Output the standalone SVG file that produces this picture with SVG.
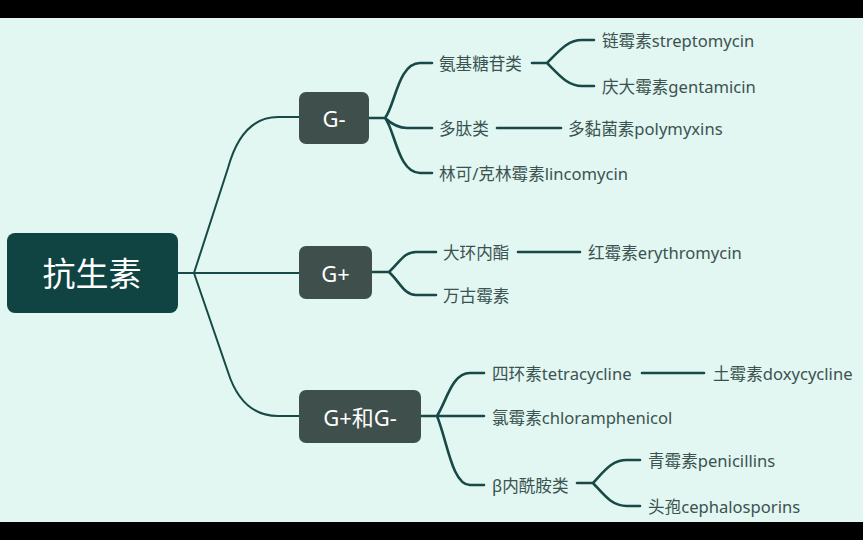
<svg xmlns="http://www.w3.org/2000/svg" width="863" height="540" viewBox="0 0 863 540">
<style>
.t{font-family:"Noto Sans","Noto Sans CJK SC",sans-serif;font-size:16.6px;fill:#3b5350;dominant-baseline:central}
.b{font-family:"Noto Sans","Noto Sans CJK SC",sans-serif;fill:#ffffff;dominant-baseline:central;text-anchor:middle}
.c{fill:none;stroke:#174946;stroke-width:2.6;stroke-linecap:round}
.r{fill:none;stroke:#174946;stroke-width:2}
</style>
<rect x="0" y="0" width="863" height="540" fill="#e2f6f2"/>
<rect x="0" y="0" width="863" height="18" fill="#000"/>
<rect x="0" y="522" width="863" height="18" fill="#000"/>
<g id="connectors">
<path class="r" d="M178,273 H194 M194,273 L228,168 Q242,117 278,117 H299 M194,273 H299 M194,273 L228,372 Q242,416 278,416 H299"/>
<path class="c" d="M369,118 H385 M385,118 C395,106 398,63 420,63 H432 M385,118 Q396,128 407,128 H432 M385,118 C395,130 398,173 420,173 H432"/>
<path class="c" d="M532,63 H547 C560,50 568,40 582,40 H594 M547,63 C560,76 568,86 582,86 H594"/>
<path class="c" d="M497,128 H561"/>
<path class="c" d="M372,272 H389 C400,262 404,252 416,252 H436 M389,272 C400,282 404,295 416,295 H436"/>
<path class="c" d="M518,252 H580"/>
<path class="c" d="M421,416 H437 C447,400 452,373 470,373 H484 M437,416 H484 M437,416 C447,440 452,485 470,485 H484"/>
<path class="c" d="M642,373 H704"/>
<path class="c" d="M577,483 H593 C605,470 612,460 627,460 H640 M593,483 C605,496 612,506 627,506 H640"/>
</g>
<g id="root"><rect x="7" y="233" width="171" height="80" rx="8" fill="#0f4442"/><text class="b" x="92" y="273" font-size="33">抗生素</text></g>
<g id="gneg"><rect x="299" y="92" width="70" height="52" rx="7" fill="#3f4f4c"/><text class="b" x="334" y="118" font-size="22">G-</text></g>
<g id="gpos"><rect x="299" y="246" width="73" height="53" rx="7" fill="#3f4f4c"/><text class="b" x="335.5" y="272.5" font-size="22">G+</text></g>
<g id="gboth"><rect x="299" y="390" width="122" height="53" rx="7" fill="#3f4f4c"/><text class="b" x="360" y="416.5" font-size="22">G+和G-</text></g>
<g id="n1"><text class="t" x="439" y="63">氨基糖苷类</text></g>
<g id="n2"><text class="t" x="439" y="128">多肽类</text></g>
<g id="n3"><text class="t" x="439" y="173">林可/克林霉素lincomycin</text></g>
<g id="n4"><text class="t" x="602" y="40">链霉素streptomycin</text></g>
<g id="n5"><text class="t" x="602" y="86">庆大霉素gentamicin</text></g>
<g id="n6"><text class="t" x="568" y="128">多黏菌素polymyxins</text></g>
<g id="n7"><text class="t" x="443" y="252">大环内酯</text></g>
<g id="n8"><text class="t" x="443" y="295">万古霉素</text></g>
<g id="n9"><text class="t" x="588" y="252">红霉素erythromycin</text></g>
<g id="n10"><text class="t" x="492" y="373">四环素tetracycline</text></g>
<g id="n11"><text class="t" x="492" y="417">氯霉素chloramphenicol</text></g>
<g id="n12"><text class="t" x="492" y="485">β内酰胺类</text></g>
<g id="n13"><text class="t" x="713" y="373">土霉素doxycycline</text></g>
<g id="n14"><text class="t" x="648" y="460">青霉素penicillins</text></g>
<g id="n15"><text class="t" x="648" y="506">头孢cephalosporins</text></g>
</svg>
